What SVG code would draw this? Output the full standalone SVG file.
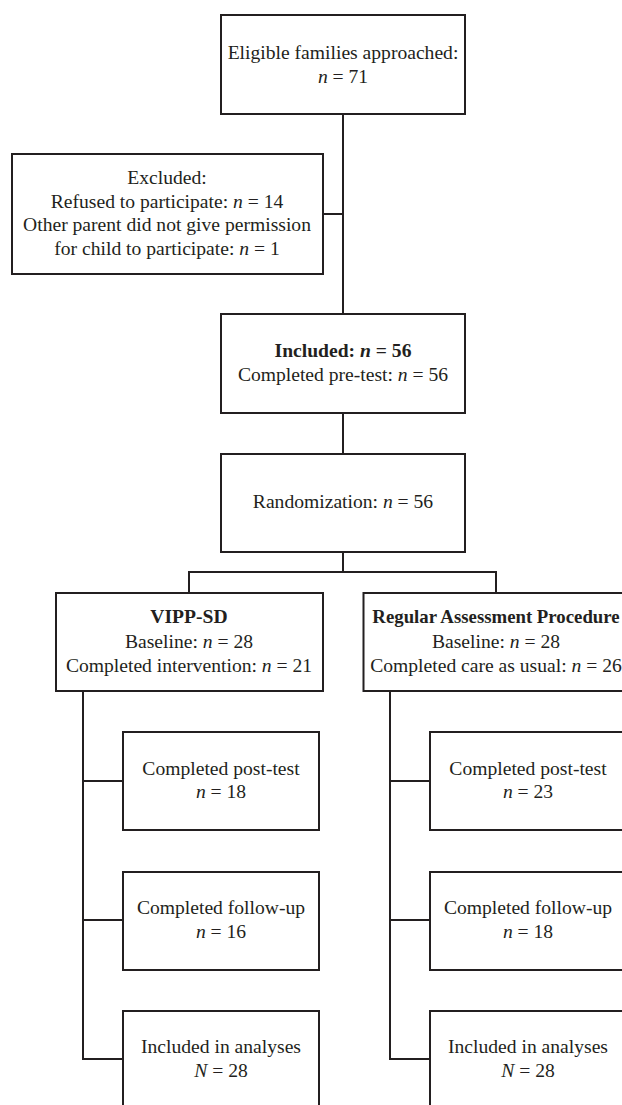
<svg xmlns="http://www.w3.org/2000/svg" width="622" height="1105" viewBox="0 0 622 1105">
<style>
rect.b{fill:#fff;stroke:#231f20;stroke-width:2}
.c path{fill:none;stroke:#231f20;stroke-width:2}
text{font-family:"Liberation Serif","Times New Roman",serif;font-size:19.6px;fill:#231f20;text-anchor:middle}
.i{font-style:italic}
.bd{font-weight:bold}
</style>
<rect width="622" height="1105" fill="#fff"/>
<g class="c" id="connectors">
<path d="M343 114V314M323 214H343"/>
<path d="M343 413V454"/>
<path d="M343 552V572M189 593V572H496V593"/>
<path d="M83 691V1059H123M83 781H123M83 920H123"/>
<path d="M390 691V1059H430M390 781H430M390 920H430"/>
</g>
<g id="n-approached">
<rect class="b" x="221" y="15" width="244" height="99"/>
<text x="343" y="59">Eligible families approached:</text>
<text x="343" y="83"><tspan class="i">n</tspan> = 71</text>
</g>
<g id="n-excluded">
<rect class="b" x="12" y="154" width="311" height="120"/>
<text x="167" y="184">Excluded:</text>
<text x="167" y="208">Refused to participate: <tspan class="i">n</tspan> = 14</text>
<text x="167" y="231">Other parent did not give permission</text>
<text x="167" y="255">for child to participate: <tspan class="i">n</tspan> = 1</text>
</g>
<g id="n-included">
<rect class="b" x="221" y="314" width="244" height="99"/>
<text x="343" y="357" class="bd">Included: <tspan class="i">n</tspan> = 56</text>
<text x="343" y="381">Completed pre-test: <tspan class="i">n</tspan> = 56</text>
</g>
<g id="n-random">
<rect class="b" x="221" y="454" width="244" height="98"/>
<text x="343" y="508">Randomization: <tspan class="i">n</tspan> = 56</text>
</g>
<g id="n-vipp">
<rect class="b" x="56" y="593" width="267" height="98"/>
<text x="189" y="623" class="bd">VIPP-SD</text>
<text x="189" y="648">Baseline: <tspan class="i">n</tspan> = 28</text>
<text x="189" y="672">Completed intervention: <tspan class="i">n</tspan> = 21</text>
</g>
<g id="n-regular">
<rect class="b" x="363.5" y="593" width="267" height="98"/>
<text x="496" y="623" class="bd" style="font-size:18.8px">Regular Assessment Procedure</text>
<text x="496" y="648">Baseline: <tspan class="i">n</tspan> = 28</text>
<text x="496" y="672">Completed care as usual: <tspan class="i">n</tspan> = 26</text>
</g>
<g id="n-post-l">
<rect class="b" x="123" y="732" width="196" height="98"/>
<text x="221" y="775">Completed post-test</text>
<text x="221" y="798"><tspan class="i">n</tspan> = 18</text>
</g>
<g id="n-follow-l">
<rect class="b" x="123" y="872" width="196" height="98"/>
<text x="221" y="914">Completed follow-up</text>
<text x="221" y="938"><tspan class="i">n</tspan> = 16</text>
</g>
<g id="n-anal-l">
<rect class="b" x="123" y="1011" width="196" height="110"/>
<text x="221" y="1053">Included in analyses</text>
<text x="221" y="1077"><tspan class="i">N</tspan> = 28</text>
</g>
<g id="n-post-r">
<rect class="b" x="430" y="732" width="196" height="98"/>
<text x="528" y="775">Completed post-test</text>
<text x="528" y="798"><tspan class="i">n</tspan> = 23</text>
</g>
<g id="n-follow-r">
<rect class="b" x="430" y="872" width="196" height="98"/>
<text x="528" y="914">Completed follow-up</text>
<text x="528" y="938"><tspan class="i">n</tspan> = 18</text>
</g>
<g id="n-anal-r">
<rect class="b" x="430" y="1011" width="196" height="110"/>
<text x="528" y="1053">Included in analyses</text>
<text x="528" y="1077"><tspan class="i">N</tspan> = 28</text>
</g>
</svg>
